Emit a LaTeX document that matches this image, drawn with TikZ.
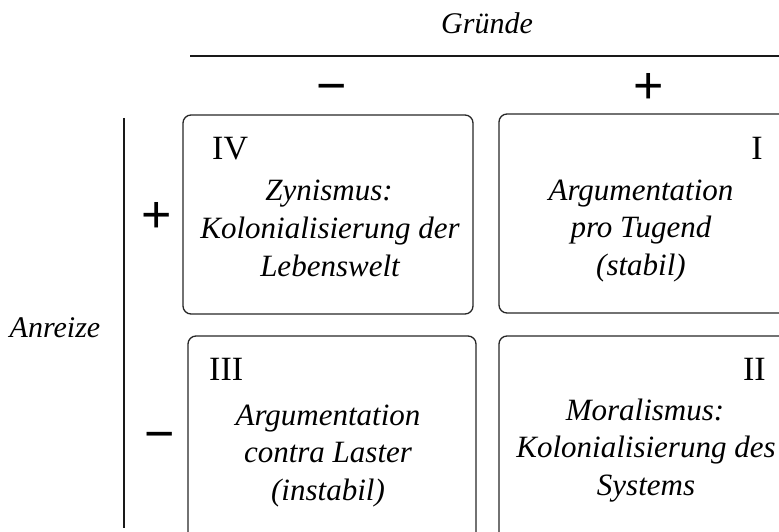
\documentclass[tikz,border=0pt]{standalone}
\usepackage{fontspec}
\setmainfont{Liberation Serif}
\newfontfamily\signfont{Liberation Sans}
\begin{document}
\begin{tikzpicture}[x=1pt,y=-1pt,
  quad/.style={draw=black!85,line width=1.3pt,rounded corners=8pt,inner sep=0pt},
  lbl/.style={anchor=base,inner sep=0pt,font=\itshape\fontsize{31}{38}\selectfont},
  ttl/.style={anchor=base,inner sep=0pt,font=\itshape\fontsize{30}{36}\selectfont},
  num/.style={inner sep=0pt,font=\fontsize{34}{40}\selectfont},
  sgn/.style={inner sep=0pt,anchor=base,font=\signfont\fontsize{52}{56}\selectfont},
  axis/.style={line width=1.4pt,draw=black!90}]
\useasboundingbox (0,0) rectangle (779,532);
\begin{scope}
\clip (0,0) rectangle (779,532);
% boxes
\draw[quad] (183,115) rectangle (473,314);
\draw[quad] (499,114) rectangle (810,313);
\draw[quad] (188,336) rectangle (476,560);
\draw[quad] (499,336) rectangle (810,560);
\end{scope}
% axes
\coordinate (hA) at (190,56);
\coordinate (hB) at (779,56);
\coordinate (vA) at (124,118);
\coordinate (vB) at (124,528);
\draw[axis] (hA) -- (hB);
\draw[axis] (vA) -- (vB);
% axis titles
\node[ttl] (gruende) at (487,34) {Gründe};
\node[ttl] (anreize) at (55,337) {Anreize};
% signs
\node[sgn] (gm) at (331.5,104) {−};
\node[sgn] (gp) at (648.5,104) {+};
\node[sgn] (ap) at (157,232) {+};
\node[sgn] (am) at (160,451) {−};
% numerals
\node[num,anchor=base west] (n4) at (212,160) {IV};
\node[num,anchor=base east] (n1) at (763,160) {I};
\node[num,anchor=base west] (n3) at (209,380) {III};
\node[num,anchor=base east] (n2) at (766,380) {II};
% IV
\node[lbl] (t4a) at (329,200) {Zynismus:};
\node[lbl] (t4b) at (330,238) {Kolonialisierung der};
\node[lbl] (t4c) at (330,276) {Lebenswelt};
% I
\node[lbl] (t1a) at (641,200) {Argumentation};
\node[lbl] (t1b) at (641,237) {pro Tugend};
\node[lbl] (t1c) at (641,275) {(stabil)};
% III
\node[lbl] (t3a) at (328,425) {Argumentation};
\node[lbl] (t3b) at (328,462) {contra Laster};
\node[lbl] (t3c) at (328,500) {(instabil)};
% II
\node[lbl] (t2a) at (645,420) {Moralismus:};
\node[lbl] (t2b) at (646,457) {Kolonialisierung des};
\node[lbl] (t2c) at (646,495) {Systems};
\end{tikzpicture}
\end{document}
